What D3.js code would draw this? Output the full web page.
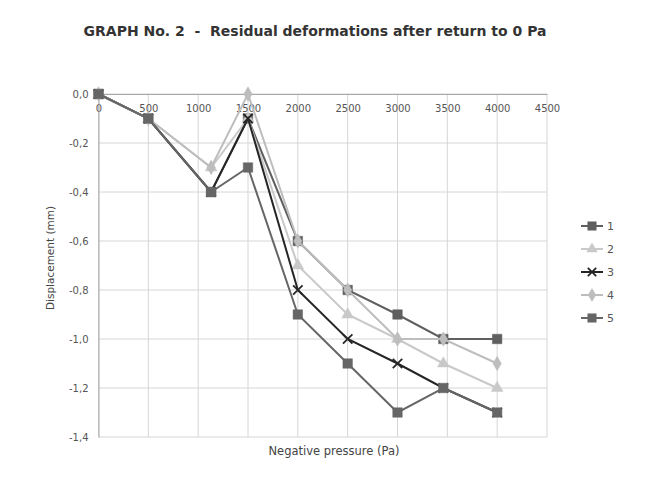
<!DOCTYPE html>
<html>
<head>
<meta charset="utf-8">
<script src="https://cdn.jsdelivr.net/npm/d3@7"></script>
<style>
  body { margin: 0; background: #fff; }
  text { font-family: "DejaVu Sans", Verdana, sans-serif; }
</style>
</head>
<body>
<div class="canvas"></div>
<script>
// values
const pressure = [0, 500, 1130, 1500, 2000, 2500, 3000, 3460, 4000];
const s1 = [0, -0.1, -0.4, -0.1, -0.6, -0.8, -0.9, -1.0, -1.0];
const s2 = [0, -0.1, -0.3, -0.1, -0.7, -0.9, -1.0, -1.1, -1.2];
const s3 = [0, -0.1, -0.4, -0.1, -0.8, -1.0, -1.1, -1.2, -1.3];
const s4 = [0, -0.1, -0.3, 0.0, -0.6, -0.8, -1.0, -1.0, -1.1];
const s5 = [0, -0.1, -0.4, -0.3, -0.9, -1.1, -1.3, -1.2, -1.3];
const seriesNames = ["1", "2", "3", "4", "5"];
const xTicks = [0, 500, 1000, 1500, 2000, 2500, 3000, 3500, 4000, 4500];
const yTicks = [0, -0.2, -0.4, -0.6, -0.8, -1.0, -1.2, -1.4];

const dims = { width: 653, height: 491 };
const plot = { left: 98.5, right: 547, top: 94, bottom: 437 };

const svg = d3.select(".canvas").append("svg")
    .attr("width", dims.width)
    .attr("height", dims.height);

const x = d3.scaleLinear().domain([0, 4500]).range([plot.left, plot.right]);
const y = d3.scaleLinear().domain([-1.4, 0]).range([plot.bottom, plot.top]);

const comma = d3.formatLocale({ decimal: ",", thousands: ".", grouping: [3], currency: ["", ""], minus: "-" });
const yFmt = comma.format(".1f");

const styles = [
    { color: "#5f5f5f", shape: d3.symbolSquare, size: 90 },
    { color: "#c9c9c9", shape: d3.symbolTriangle, size: 60 },
    { color: "#262626", shape: d3.symbolCross, size: 60, cross: true },
    { color: "#bdbdbd", shape: d3.symbolDiamond, size: 60 },
    { color: "#666666", shape: d3.symbolSquare, size: 90 }
];

const series = [s1, s2, s3, s4, s5].map((vals, i) => ({
    name: seriesNames[i],
    style: styles[i],
    points: vals.map((v, j) => ({ p: pressure[j], v: v }))
}));

// grid
const grid = svg.append("g");
grid.selectAll(".vg").data(xTicks).enter().append("line")
    .attr("x1", d => x(d)).attr("x2", d => x(d))
    .attr("y1", plot.top).attr("y2", plot.bottom)
    .attr("stroke", "#d6d6d6").attr("stroke-width", 1);
grid.selectAll(".hg").data(yTicks).enter().append("line")
    .attr("x1", plot.left).attr("x2", plot.right)
    .attr("y1", d => y(d)).attr("y2", d => y(d))
    .attr("stroke", "#d6d6d6").attr("stroke-width", 1);

// axes
const xAxis = svg.append("g")
    .attr("transform", `translate(0,${y(0)})`)
    .call(d3.axisBottom(x).tickValues(xTicks).tickFormat(d3.format("d")).tickSize(0).tickPadding(11));
xAxis.select(".domain").attr("stroke", "#a8a8a8");
xAxis.selectAll("text").attr("font-size", 10).attr("fill", "#555");

const yAxis = svg.append("g")
    .attr("transform", `translate(${plot.left},0)`)
    .call(d3.axisLeft(y).tickValues(yTicks).tickFormat(yFmt).tickSize(0).tickPadding(10));
yAxis.select(".domain").attr("stroke", "#a8a8a8");
yAxis.selectAll("text").attr("font-size", 10).attr("fill", "#555");

// lines + markers
const line = d3.line().x(d => x(d.p)).y(d => y(d.v));
const marker = (st, size) => d3.symbol().type(st.cross ? d3.symbolX : st.shape).size(size || st.size);

series.forEach(s => {
    const g = svg.append("g");
    g.append("path")
        .attr("d", line(s.points))
        .attr("fill", "none")
        .attr("stroke", s.style.color)
        .attr("stroke-width", 2);
    g.selectAll("path.m").data(s.points).enter().append("path")
        .attr("class", "m")
        .attr("transform", d => `translate(${x(d.p)},${y(d.v)})`)
        .attr("d", marker(s.style))
        .attr("fill", s.style.cross ? "none" : s.style.color)
        .attr("stroke", s.style.color)
        .attr("stroke-width", s.style.cross ? 1.8 : 0.5);
});

// title & axis titles
svg.append("text")
    .attr("x", 315).attr("y", 36)
    .attr("text-anchor", "middle")
    .attr("font-size", 14).attr("font-weight", "bold")
    .attr("fill", "#333")
    .attr("xml:space", "preserve")
    .text("GRAPH No. 2  -  Residual deformations after return to 0 Pa");

svg.append("text")
    .attr("x", 334).attr("y", 455)
    .attr("text-anchor", "middle")
    .attr("font-size", 11.5).attr("fill", "#444")
    .text("Negative pressure (Pa)");

svg.append("text")
    .attr("transform", "translate(54,258) rotate(-90)")
    .attr("text-anchor", "middle")
    .attr("font-size", 10.5).attr("fill", "#444")
    .text("Displacement (mm)");

// legend
const legend = svg.append("g").attr("transform", "translate(581,226)");
const items = legend.selectAll("g").data(series).enter().append("g")
    .attr("transform", (d, i) => `translate(0,${i * 23})`);
items.append("line")
    .attr("x1", 0).attr("x2", 22)
    .attr("stroke", d => d.style.color).attr("stroke-width", 2);
items.append("path")
    .attr("transform", "translate(11,0)")
    .attr("d", d => marker(d.style, d.style.size * 0.8)())
    .attr("fill", d => d.style.cross ? "none" : d.style.color)
    .attr("stroke", d => d.style.color)
    .attr("stroke-width", d => d.style.cross ? 1.8 : 0.5);
items.append("text")
    .attr("x", 26).attr("dy", "0.35em")
    .attr("font-size", 11).attr("fill", "#555")
    .text(d => d.name);
</script>
</body>
</html>
